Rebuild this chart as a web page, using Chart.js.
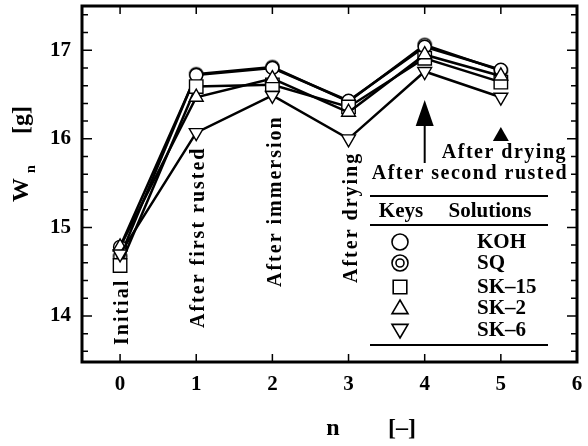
<!DOCTYPE html>
<html>
<head>
<meta charset="utf-8">
<script src="https://cdn.jsdelivr.net/npm/chart.js@4"></script>
<style>
  html, body { margin: 0; padding: 0; background: #fff; }
</style>
</head>
<body>
<canvas id="myChart" width="588" height="446"></canvas>
<script>
// Datos
const pasos = [0, 1, 2, 3, 4, 5];
const koh  = [14.78, 16.72, 16.80, 16.43, 17.04, 16.78];
const sq   = [14.67, 16.73, 16.81, 16.42, 17.06, 16.77];
const sk15 = [14.57, 16.59, 16.61, 16.36, 16.91, 16.64];
const sk2  = [14.78, 16.47, 16.68, 16.30, 16.95, 16.71];
const sk6  = [14.70, 16.07, 16.49, 16.00, 16.76, 16.47];
const ticksX = [0, 1, 2, 3, 4, 5, 6];
const ticksY = [14, 15, 16, 17];
const etapas = ['Initial', 'After first rusted', 'After immersion', 'After drying'];

const FUENTE = '"Liberation Serif", "DejaVu Serif", serif';

// simbolo de doble circulo para SQ
function dobleCirculo(r) {
    const c = document.createElement('canvas');
    c.width = c.height = r * 2 + 4;
    const g = c.getContext('2d');
    g.fillStyle = '#fff';
    g.strokeStyle = '#000';
    g.lineWidth = 1.6;
    g.beginPath(); g.arc(r + 2, r + 2, r, 0, Math.PI * 2); g.fill(); g.stroke();
    g.beginPath(); g.arc(r + 2, r + 2, r * 0.45, 0, Math.PI * 2); g.stroke();
    return c;
}
const iconoSQ = dobleCirculo(6.5);

function serie(label, data, estilo, rot, radio) {
    return {
        label: label,
        data: pasos.map((x, i) => ({ x: x, y: data[i] })),
        borderColor: '#000',
        borderWidth: 2.5,
        backgroundColor: '#fff',
        pointStyle: estilo,
        pointRotation: rot || 0,
        pointRadius: radio,
        pointBorderWidth: 1.4,
        pointBackgroundColor: '#fff',
        pointBorderColor: '#000',
        tension: 0
    };
}

// dibuja un simbolo de la leyenda
function simbolo(ctx, tipo, x, y, r) {
    ctx.save();
    ctx.strokeStyle = '#000';
    ctx.lineWidth = 1.6;
    ctx.beginPath();
    if (tipo === 'circle' || tipo === 'double') {
        ctx.arc(x, y, r, 0, Math.PI * 2);
        ctx.stroke();
        if (tipo === 'double') {
            ctx.beginPath();
            ctx.arc(x, y, r * 0.5, 0, Math.PI * 2);
            ctx.stroke();
        }
    } else if (tipo === 'rect') {
        ctx.rect(x - r * 0.85, y - r * 0.85, r * 1.7, r * 1.7);
        ctx.stroke();
    } else if (tipo === 'up') {
        ctx.moveTo(x, y - r); ctx.lineTo(x + r, y + r * 0.7); ctx.lineTo(x - r, y + r * 0.7); ctx.closePath();
        ctx.stroke();
    } else if (tipo === 'down') {
        ctx.moveTo(x, y + r); ctx.lineTo(x + r, y - r * 0.7); ctx.lineTo(x - r, y - r * 0.7); ctx.closePath();
        ctx.stroke();
    }
    ctx.restore();
}

const decoracion = {
    id: 'decoracion',
    afterDraw(chart) {
        const ctx = chart.ctx;
        const a = chart.chartArea;
        const sx = chart.scales.x, sy = chart.scales.y;
        ctx.save();
        ctx.strokeStyle = '#000';
        ctx.fillStyle = '#000';

        // marco
        ctx.lineWidth = 3;
        ctx.strokeRect(a.left, a.top, a.right - a.left, a.bottom - a.top);

        // ticks hacia dentro
        ctx.lineWidth = 1.5;
        ticksX.forEach(v => {
            const px = sx.getPixelForValue(v);
            ctx.beginPath();
            ctx.moveTo(px, a.bottom); ctx.lineTo(px, a.bottom - 8);
            ctx.moveTo(px, a.top); ctx.lineTo(px, a.top + 8);
            ctx.stroke();
        });
        for (let v = 13.6; v < 17.5; v += 0.2) {
            const mayor = Math.abs(v - Math.round(v)) < 0.01;
            const len = mayor ? 10 : 6;
            const py = sy.getPixelForValue(v);
            ctx.beginPath();
            ctx.moveTo(a.left, py); ctx.lineTo(a.left + len, py);
            ctx.moveTo(a.right, py); ctx.lineTo(a.right - len, py);
            ctx.stroke();
        }

        // etapas verticales
        ctx.font = 'bold 20px ' + FUENTE;
        ctx.letterSpacing = '2px';
        ctx.textAlign = 'left';
        ctx.textBaseline = 'middle';
        const bases = [345, 328, 287, 283];
        etapas.forEach((t, i) => {
            const px = sx.getPixelForValue(i) + 3;
            ctx.save();
            ctx.translate(px, bases[i]);
            ctx.rotate(-Math.PI / 2);
            ctx.fillText(t, 0, 0);
            ctx.restore();
        });

        // textos horizontales
        ctx.letterSpacing = '1.5px';
        ctx.textAlign = 'right';
        ctx.fillText('After drying', 567, 153);
        ctx.fillText('After second rusted', 568, 174);

        // flechas
        const x4 = sx.getPixelForValue(4);
        ctx.lineWidth = 2;
        ctx.beginPath(); ctx.moveTo(x4, 163); ctx.lineTo(x4, 115); ctx.stroke();
        ctx.beginPath();
        ctx.moveTo(x4, 100); ctx.lineTo(x4 + 9, 126); ctx.lineTo(x4 - 9, 126); ctx.closePath(); ctx.fill();
        const x5 = sx.getPixelForValue(5);
        ctx.beginPath();
        ctx.moveTo(x5, 127); ctx.lineTo(x5 + 8, 141); ctx.lineTo(x5 - 8, 141); ctx.closePath(); ctx.fill();

        // tabla de claves
        ctx.lineWidth = 2;
        [196, 225, 345].forEach(y => {
            ctx.beginPath(); ctx.moveTo(370, y); ctx.lineTo(548, y); ctx.stroke();
        });
        ctx.letterSpacing = '0px';
        ctx.font = 'bold 21px ' + FUENTE;
        ctx.textAlign = 'center';
        ctx.fillText('Keys', 401, 212);
        ctx.fillText('Solutions', 490, 212);
        const claves = ['KOH', 'SQ', 'SK\u201315', 'SK\u20132', 'SK\u20136'];
        const tipos = ['circle', 'double', 'rect', 'up', 'down'];
        const filas = [242, 263, 287, 308, 330];
        ctx.textAlign = 'left';
        claves.forEach((k, i) => {
            simbolo(ctx, tipos[i], 400, filas[i], 8);
            ctx.fillText(k, 477, filas[i] + 1);
        });

        // titulos de ejes
        ctx.font = 'bold 24px ' + FUENTE;
        ctx.textAlign = 'center';
        ctx.fillText('n', 333, 429);
        ctx.fillText('[\u2013]', 402, 429);
        ctx.save();
        ctx.translate(22, 150);
        ctx.rotate(-Math.PI / 2);
        ctx.fillText('W', -40, 0);
        ctx.font = 'bold 14px ' + FUENTE;
        ctx.fillText('n', -19, 9);
        ctx.font = 'bold 24px ' + FUENTE;
        ctx.fillText('[g]', 30, 0);
        ctx.restore();

        ctx.restore();
    }
};

const ctx = document.getElementById('myChart').getContext('2d');
const myChart = new Chart(ctx, {
    type: 'line',
    data: {
        datasets: [
            serie('SK-6', sk6, 'triangle', 180, 8),
            serie('SK-2', sk2, 'triangle', 0, 8),
            serie('SK-15', sk15, 'rect', 0, 9.5),
            serie('KOH', koh, 'circle', 0, 6.5),
            serie('SQ', sq, iconoSQ, 0, 6.5)
        ]
    },
    options: {
        responsive: false,
        animation: false,
        layout: { autoPadding: false, padding: { top: 6, right: 11, left: 0, bottom: 0 } },
        plugins: {
            legend: { display: false },
            tooltip: { enabled: false }
        },
        scales: {
            x: {
                type: 'linear',
                min: -0.5,
                max: 6,
                afterBuildTicks: s => { s.ticks = ticksX.map(v => ({ value: v })); },
                afterFit: s => { s.height = 84; s.paddingLeft = 0; s.paddingRight = 0; },
                grid: { display: false, drawTicks: false },
                border: { display: false },
                ticks: {
                    padding: 10,
                    color: '#000',
                    font: { family: FUENTE, size: 21, weight: 'bold' },
                    callback: v => String(v)
                }
            },
            y: {
                min: 13.48,
                max: 17.5,
                afterBuildTicks: s => { s.ticks = ticksY.map(v => ({ value: v })); },
                afterFit: s => { s.width = 82; s.paddingTop = 0; s.paddingBottom = 0; },
                grid: { display: false, drawTicks: false },
                border: { display: false },
                ticks: {
                    padding: 11,
                    color: '#000',
                    font: { family: FUENTE, size: 21, weight: 'bold' },
                    callback: v => String(v)
                }
            }
        }
    },
    plugins: [decoracion]
});
</script>
</body>
</html>
